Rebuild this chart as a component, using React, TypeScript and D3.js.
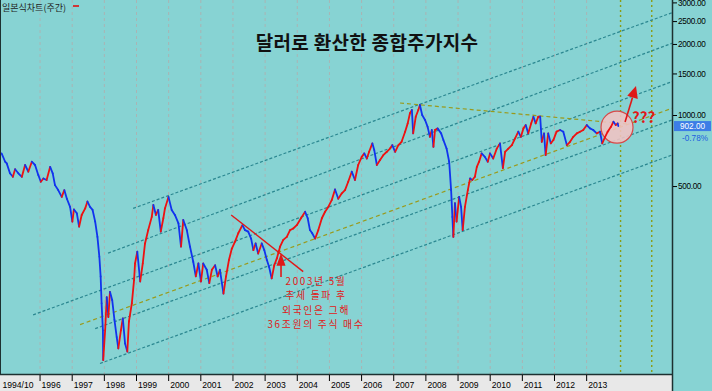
import React from "react";
import * as d3 from "d3";

const WIDTH = 712;
const HEIGHT = 391;

// weekly-ish dollar-converted KOSPI readings: [decimal year, value]
const dollarKospi: [number, number][] = [
  [1994.82, 691], [1994.93, 637], [1994.98, 627], [1995.08, 569], [1995.17, 550], [1995.24, 592],
  [1995.34, 569], [1995.45, 550], [1995.55, 617], [1995.65, 578], [1995.76, 637], [1995.86, 617],
  [1995.96, 560], [1996.04, 524], [1996.12, 541], [1996.22, 533], [1996.33, 606], [1996.41, 569],
  [1996.48, 507], [1996.58, 483], [1996.69, 452], [1996.77, 483], [1996.85, 444], [1996.95, 410],
  [1997.02, 355], [1997.07, 400], [1997.16, 385], [1997.23, 338], [1997.31, 379], [1997.42, 404],
  [1997.49, 432], [1997.57, 410], [1997.65, 398], [1997.73, 355], [1997.8, 306], [1997.86, 252],
  [1997.9, 208], [1997.93, 160], [1997.97, 123], [1997.98, 92], [1998.04, 123], [1998.09, 170],
  [1998.14, 140], [1998.19, 179], [1998.26, 165], [1998.33, 136], [1998.4, 115], [1998.45, 103],
  [1998.53, 123], [1998.59, 138], [1998.66, 108], [1998.73, 100], [1998.78, 134], [1998.87, 160],
  [1998.94, 201], [1998.97, 236], [1999.04, 265], [1999.13, 198], [1999.21, 236], [1999.28, 287],
  [1999.38, 327], [1999.49, 372], [1999.54, 418], [1999.62, 379], [1999.69, 398], [1999.77, 322],
  [1999.85, 367], [1999.9, 404], [2000.01, 452], [2000.11, 398], [2000.21, 379], [2000.32, 349],
  [2000.4, 278], [2000.47, 361], [2000.58, 327], [2000.68, 278], [2000.78, 240], [2000.86, 208],
  [2000.94, 236], [2001.02, 198], [2001.09, 236], [2001.2, 222], [2001.28, 195], [2001.36, 222],
  [2001.46, 232], [2001.54, 208], [2001.61, 222], [2001.72, 176], [2001.8, 208], [2001.89, 244],
  [2001.98, 273], [2002.08, 292], [2002.18, 317], [2002.31, 343], [2002.39, 327], [2002.49, 322],
  [2002.58, 301], [2002.65, 269], [2002.72, 287], [2002.8, 260], [2002.91, 287], [2002.99, 269],
  [2003.07, 244], [2003.14, 228], [2003.22, 204], [2003.3, 232], [2003.38, 248], [2003.48, 278],
  [2003.58, 297], [2003.69, 306], [2003.79, 327], [2003.89, 332], [2004.0, 343], [2004.13, 367],
  [2004.26, 391], [2004.34, 367], [2004.41, 327], [2004.48, 317], [2004.57, 301], [2004.67, 327],
  [2004.78, 367], [2004.88, 391], [2004.98, 410], [2005.09, 439], [2005.19, 486], [2005.29, 444],
  [2005.4, 468], [2005.5, 483], [2005.6, 524], [2005.71, 578], [2005.81, 533], [2005.91, 617],
  [2006.02, 668], [2006.1, 691], [2006.18, 657], [2006.25, 702], [2006.35, 762], [2006.41, 714],
  [2006.49, 617], [2006.59, 648], [2006.69, 679], [2006.8, 702], [2006.9, 724], [2006.97, 749],
  [2007.06, 702], [2007.16, 749], [2007.26, 774], [2007.37, 854], [2007.45, 926], [2007.52, 1022],
  [2007.58, 1055], [2007.62, 840], [2007.7, 988], [2007.78, 1055], [2007.83, 1108], [2007.9, 1005],
  [2007.99, 957], [2008.07, 895], [2008.14, 812], [2008.2, 868], [2008.25, 736], [2008.3, 868],
  [2008.38, 882], [2008.49, 840], [2008.56, 787], [2008.66, 724], [2008.74, 637], [2008.8, 483],
  [2008.84, 372], [2008.87, 306], [2008.92, 425], [2008.97, 355], [2009.05, 452], [2009.11, 410],
  [2009.16, 327], [2009.23, 410], [2009.32, 483], [2009.39, 541], [2009.46, 533], [2009.54, 550],
  [2009.6, 606], [2009.67, 637], [2009.75, 691], [2009.85, 668], [2009.94, 637], [2010.01, 691],
  [2010.11, 657], [2010.22, 724], [2010.32, 762], [2010.41, 598], [2010.48, 702], [2010.58, 724],
  [2010.69, 749], [2010.79, 800], [2010.89, 854], [2010.97, 812], [2011.05, 882], [2011.12, 911],
  [2011.2, 840], [2011.29, 926], [2011.36, 988], [2011.43, 926], [2011.51, 988], [2011.57, 988],
  [2011.62, 774], [2011.69, 840], [2011.74, 679], [2011.82, 840], [2011.9, 762], [2011.98, 787],
  [2012.08, 854], [2012.19, 868], [2012.29, 854], [2012.4, 749], [2012.5, 774], [2012.6, 812],
  [2012.71, 840], [2012.81, 854], [2012.91, 868], [2013.02, 911], [2013.12, 882], [2013.22, 868],
  [2013.33, 840], [2013.43, 854], [2013.5, 762], [2013.59, 812], [2013.67, 854], [2013.77, 895],
  [2013.85, 941], [2013.92, 911], [2013.98, 926], [2014.0, 902],
];

const yearTicks = [1996, 1997, 1998, 1999, 2000, 2001, 2002, 2003, 2004, 2005, 2006, 2007, 2008, 2009, 2010, 2011, 2012, 2013];
const firstLabelYear = 1994.77;
const firstLabelText = "1994/10";
const priceTicks = [500, 1000, 1500, 2000, 2500, 3000];
const lastPrice = 902;
const lastChange = -0.78;
const futureMarkers = [2014.07, 2015.04];

const channelLines: [number, number][][] = [
  [[1998.91, 404], [2015.67, 2726]],
  [[1998.13, 261], [2015.67, 2023]],
  [[1995.8, 143], [2015.67, 1391]],
  [[1997.73, 125], [2015.67, 957]],
  [[1997.88, 89], [2015.67, 680]],
];
const oliveLines: [number, number][][] = [
  [[1997.26, 130], [2015.67, 1073]],
  [[2007.21, 1130], [2014.3, 920]],
];
const breakTrend: [number, number][] = [[2001.96, 379], [2004.2, 218]];
const breakArrow = { year: 2003.51, low: 207, high: 261 };
const noteLines = ["2003년 5월", "추세 돌파 후", "외국인은 그해", "36조원의 주식 매수"];
const focusPoint = { year: 2013.96, value: 892 };
const projection: [number, number][] = [[2014.21, 938], [2014.55, 1334]];
const title = "달러로 환산한 종합주가지수";
const chartLabel = "일본식차트(주간)";

const BG = "#87d3d3";
const UP = "#ee1111";
const DOWN = "#1133ee";
const TEAL = "#2b8790";
const OLIVE = "#9a9a1c";
const NOTE_RED = "#e01818";
const KR = "'Noto Sans CJK KR', 'Noto Sans', sans-serif";
const AX = "'Liberation Sans', Arial, sans-serif";

export default function App() {
  const plotW = 672;
  const plotH = 374;
  const x = d3.scaleLinear().domain([1994.77, 2015.67]).range([0, plotW]);
  const y = d3.scaleLog().domain([80.3, 3086]).range([plotH, 0]);

  const segs = dollarKospi.slice(1).map((p, i) => {
    const prev = dollarKospi[i];
    return { x1: x(prev[0]), y1: y(prev[1]), x2: x(p[0]), y2: y(p[1]), up: p[1] >= prev[1] };
  });

  const ax = x(breakArrow.year);
  const aTop = y(breakArrow.high);
  const aBot = y(breakArrow.low);

  const p0 = [x(projection[0][0]), y(projection[0][1])];
  const p1 = [x(projection[1][0]), y(projection[1][1])];
  const ang = Math.atan2(p1[1] - p0[1], p1[0] - p0[0]);
  const headLen = 12;
  const headHalf = 5.5;
  const bx = p1[0] - headLen * Math.cos(ang);
  const by = p1[1] - headLen * Math.sin(ang);
  const nx = -Math.sin(ang);
  const ny = Math.cos(ang);
  const head = `${p1[0]},${p1[1]} ${bx + nx * headHalf},${by + ny * headHalf} ${bx - nx * headHalf},${by - ny * headHalf}`;

  const cx = x(focusPoint.year);
  const cy = y(focusPoint.value);
  const lastY = y(lastPrice);

  return (
    <svg
      width={WIDTH}
      height={HEIGHT}
      style={{ position: "absolute", left: 0, top: 0, display: "block" }}
    >
      <rect x={0} y={0} width={WIDTH} height={HEIGHT} fill={BG} />
      {/* year gridlines */}
      {yearTicks.map((yr) => (
        <line key={"g" + yr} x1={x(yr) + 0.5} x2={x(yr) + 0.5} y1={0} y2={plotH}
          stroke="#a9b4b4" strokeWidth={1} strokeDasharray="3,3" />
      ))}
      {/* future markers */}
      {futureMarkers.map((yr) => (
        <line key={"f" + yr} x1={x(yr)} x2={x(yr)} y1={0} y2={plotH - 2}
          stroke="#8c9c12" strokeWidth={1.4} strokeDasharray="2,3" />
      ))}
      {/* channel lines */}
      {channelLines.map((l, i) => (
        <line key={"c" + i} x1={x(l[0][0])} y1={y(l[0][1])} x2={x(l[1][0])} y2={y(l[1][1])}
          stroke={TEAL} strokeWidth={1.2} strokeDasharray="3,2" />
      ))}
      {oliveLines.map((l, i) => (
        <line key={"o" + i} x1={x(l[0][0])} y1={y(l[0][1])} x2={x(l[1][0])} y2={y(l[1][1])}
          stroke={OLIVE} strokeWidth={1.2} strokeDasharray="4,3" />
      ))}
      {/* focus circle */}
      <circle cx={cx} cy={cy} r={16} fill="#f3c3c3" fillOpacity={0.88} stroke="#d84848" strokeWidth={1.2} />
      {/* price line */}
      {segs.map((s, i) => (
        <line key={"s" + i} x1={s.x1} y1={s.y1} x2={s.x2} y2={s.y2}
          stroke={s.up ? UP : DOWN} strokeWidth={1.8} strokeLinecap="round" />
      ))}
      {/* break trend line */}
      <line x1={x(breakTrend[0][0])} y1={y(breakTrend[0][1])} x2={x(breakTrend[1][0])} y2={y(breakTrend[1][1])}
        stroke={NOTE_RED} strokeWidth={1.4} />
      <line x1={ax} x2={ax} y1={aTop + 10} y2={aBot} stroke={NOTE_RED} strokeWidth={1.6} />
      <polygon points={`${ax},${aTop} ${ax - 4.5},${aTop + 12.5} ${ax + 4.5},${aTop + 12.5}`} fill={NOTE_RED} />
      {noteLines.map((t, i) => (
        <text key={"n" + i} x={ax + 35} y={aBot + 8 + i * 14.3} textAnchor="middle"
          fontFamily={KR} fontSize={9.8} letterSpacing={1.7} fill={NOTE_RED}>{t}</text>
      ))}
      {/* projection arrow */}
      <line x1={p0[0]} y1={p0[1]} x2={bx} y2={by} stroke={NOTE_RED} strokeWidth={1.6} />
      <polygon points={head} fill={NOTE_RED} />
      <text x={cx + 15} y={cy - 4} fontFamily={KR} fontSize={15} fontWeight={700} fill={NOTE_RED}>???</text>
      {/* title */}
      <text x={367} y={50} textAnchor="middle" fontFamily={KR} fontSize={19} fontWeight={700}
        letterSpacing={0.3} fill="#111">{title}</text>
      <text x={2} y={11} fontFamily={KR} fontSize={9} fill="#222">{chartLabel}</text>
      <line x1={73} x2={79} y1={6} y2={6} stroke="#e01010" strokeWidth={1.6} />
      {/* bottom axis */}
      <rect x={0} y={plotH + 1} width={plotW} height={HEIGHT - plotH - 1} fill="#e8e8e8" />
      <line x1={0} x2={plotW} y1={plotH + 0.5} y2={plotH + 0.5} stroke="#1d3030" strokeWidth={1.5} />
      <line x1={0.5} x2={0.5} y1={0} y2={plotH} stroke="#1d3030" strokeWidth={1} />
      <text x={x(firstLabelYear) + 2.5} y={388} fontFamily={AX} fontSize={8.6} fill="#000">{firstLabelText}</text>
      {yearTicks.map((yr) => (
        <g key={"t" + yr}>
          <line x1={x(yr) + 0.5} x2={x(yr) + 0.5} y1={plotH + 1} y2={plotH + 7} stroke="#000" strokeWidth={1} />
          <text x={x(yr) + 2} y={388} fontFamily={AX} fontSize={8.6} fill="#000">{String(yr)}</text>
        </g>
      ))}
      {/* right axis */}
      <line x1={plotW + 0.5} x2={plotW + 0.5} y1={0} y2={HEIGHT} stroke="#1d3030" strokeWidth={1.5} />
      {priceTicks.map((v) => (
        <g key={"p" + v}>
          <line x1={plotW + 1} x2={plotW + 5} y1={y(v)} y2={y(v)} stroke="#000" strokeWidth={1} />
          <text x={plotW + 6} y={y(v)} dy="0.35em" fontFamily={AX} fontSize={8.2} letterSpacing={-0.3} fill="#000">
            {v.toFixed(2)}
          </text>
        </g>
      ))}
      <rect x={plotW + 2} y={lastY - 5} width={37} height={10} fill="#3c7de6" />
      <text x={plotW + 20.5} y={lastY} dy="0.35em" textAnchor="middle" fontFamily={AX} fontSize={8.2} fill="#fff">
        {lastPrice.toFixed(2)}
      </text>
      <text x={plotW + 36} y={lastY + 12} dy="0.35em" textAnchor="end" fontFamily={AX} fontSize={8.2} fill="#1e5fe0">
        {lastChange.toFixed(2) + "%"}
      </text>
    </svg>
  );
}
